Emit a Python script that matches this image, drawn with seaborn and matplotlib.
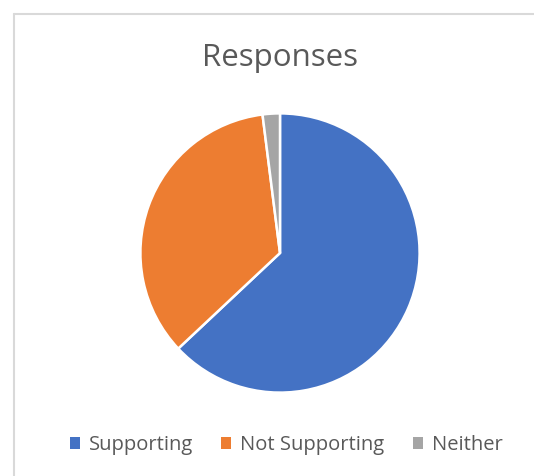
import matplotlib
matplotlib.use("Agg")
import matplotlib.pyplot as plt
import matplotlib.patches as mpatches
from matplotlib.lines import Line2D
import seaborn as sns

# Data
labels = ["Supporting", "Not Supporting", "Neither"]
values = [63, 35, 2]
colors = ["#4472C4", "#ED7D31", "#A5A5A5"]

sns.set_theme(style="white")
plt.rcParams['font.family'] = ['Open Sans', 'DejaVu Sans']

W, H = 534, 476
fig = plt.figure(figsize=(W / 100, H / 100), dpi=100)

# chart frame (cropped on right and bottom)
fx, fy = 14 / W, 1 - 14 / H
fig.add_artist(Line2D([fx, fx], [-0.05, fy], transform=fig.transFigure,
                      color="#D9D9D9", linewidth=1.5))
fig.add_artist(Line2D([fx, 1.05], [fy, fy], transform=fig.transFigure,
                      color="#D9D9D9", linewidth=1.5))

# square axes holding the pie, centre at (280, 253) px, radius 140 px
r = 141
cx, cy = 280, 253
ax = fig.add_axes([(cx - r) / W, (H - cy - r) / H, 2 * r / W, 2 * r / H])
ax.pie(values, colors=sns.color_palette(colors), startangle=90, counterclock=False,
       radius=1, wedgeprops=dict(edgecolor="white", linewidth=1.8))
ax.set_xlim(-1.01, 1.01)
ax.set_ylim(-1.01, 1.01)
ax.set_aspect("equal")
ax.axis("off")

fig.text(cx / W, 1 - 58 / H, "Responses", ha="center", va="center",
         fontsize=22.5, color="#595959")

handles = [mpatches.Patch(facecolor=c, edgecolor="none") for c in colors]
fig.legend(handles, labels, loc="center", bbox_to_anchor=(286 / W, 1 - 445 / H),
           ncol=3, frameon=False, fontsize=14.5, labelcolor="#595959",
           handlelength=0.5, handleheight=0.5, handletextpad=0.45, columnspacing=1.4)

fig.savefig("out.png", dpi=100)
